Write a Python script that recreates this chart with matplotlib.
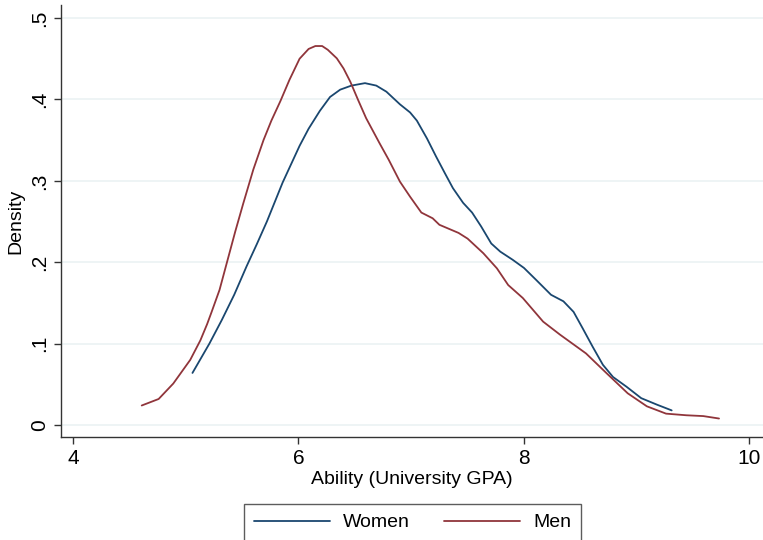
import matplotlib
matplotlib.use("Agg")
import matplotlib.pyplot as plt

plt.rcParams['font.family'] = ['Liberation Sans', 'DejaVu Sans']

# ---- data ----
women_x = [5.06, 5.21, 5.32, 5.43, 5.54, 5.63, 5.72, 5.86, 6.01, 6.09, 6.19, 6.28,
           6.37, 6.47, 6.59, 6.69, 6.78, 6.90, 6.99, 7.05, 7.14, 7.22, 7.30, 7.37, 7.46,
           7.54, 7.62, 7.71, 7.79, 7.90, 8.00, 8.11, 8.24, 8.35, 8.44, 8.52, 8.61, 8.70,
           8.79, 8.91, 9.04, 9.18, 9.31]
women_y = [0.064, 0.100, 0.129, 0.160, 0.195, 0.222, 0.250, 0.298, 0.343, 0.364,
           0.386, 0.403, 0.412, 0.417, 0.420, 0.417, 0.4095, 0.394, 0.384, 0.374, 0.352,
           0.330, 0.309, 0.291, 0.273, 0.261, 0.244, 0.223, 0.213, 0.203, 0.193, 0.178,
           0.160, 0.152, 0.139, 0.119, 0.096, 0.074, 0.059, 0.047, 0.033, 0.025, 0.018]

men_x = [4.61, 4.76, 4.89, 5.04, 5.13, 5.19, 5.23, 5.30, 5.37, 5.44, 5.51, 5.60, 5.69,
         5.76, 5.84, 5.92, 6.01, 6.09, 6.15, 6.21, 6.26, 6.34, 6.40, 6.46, 6.53, 6.60,
         6.72, 6.80, 6.90, 6.99, 7.09, 7.19, 7.25, 7.42, 7.50, 7.64, 7.76, 7.86, 7.99,
         8.17, 8.32, 8.55, 8.73, 8.92, 9.09, 9.26, 9.44, 9.59, 9.73]
men_y = [0.024, 0.032, 0.051, 0.080, 0.104, 0.124, 0.139, 0.166, 0.202, 0.238, 0.272,
         0.314, 0.350, 0.374, 0.398, 0.424, 0.450, 0.462, 0.4656, 0.4656, 0.461, 0.4505,
         0.438, 0.4217, 0.399, 0.377, 0.346, 0.326, 0.299, 0.2805, 0.261, 0.254, 0.246,
         0.236, 0.229, 0.211, 0.1925, 0.172, 0.156, 0.127, 0.111, 0.088, 0.064, 0.039,
         0.023, 0.014, 0.012, 0.011, 0.008]

x_ticks = [4, 6, 8, 10]
x_tick_labels = ["4", "6", "8", "10"]
y_ticks = [0, 0.1, 0.2, 0.3, 0.4, 0.5]
y_tick_labels = ["0", ".1", ".2", ".3", ".4", ".5"]
series_labels = ["Women", "Men"]
x_title = "Ability (University GPA)"
y_title = "Density"

# ---- figure ----
W, H = 763, 540
fig = plt.figure(figsize=(W / 100, H / 100), dpi=100)
fig.patch.set_facecolor("white")
ax = fig.add_axes([61 / W, (H - 437) / H, (W - 61) / W, (437 - 5) / H])

blue = "#1a476f"
red = "#90353b"
axcol = "#333333"

ax.plot(women_x, women_y, color=blue, lw=1.3, label=series_labels[0], zorder=3,
        solid_joinstyle="round", solid_capstyle="round")
ax.plot(men_x, men_y, color=red, lw=1.3, label=series_labels[1], zorder=3,
        solid_joinstyle="round", solid_capstyle="round")

ax.set_xlim(3.894, 10.12)
ax.set_ylim(-0.0147, 0.516)

ax.set_xticks(x_ticks)
ax.set_xticklabels(x_tick_labels)
ax.set_yticks(y_ticks)
ax.set_yticklabels(y_tick_labels, rotation=90, va="center")

for yv in y_ticks:
    ax.axhline(yv, color="#eaf1f3", lw=1.1, zorder=1)

for s in ["top", "right"]:
    ax.spines[s].set_visible(False)
for s in ["left", "bottom"]:
    ax.spines[s].set_color(axcol)
    ax.spines[s].set_linewidth(1.0)

ax.tick_params(axis="both", direction="out", length=5, width=1.0, color=axcol,
               labelsize=15, labelcolor="black", pad=3.5)

ax.set_xlabel(x_title, fontsize=14, labelpad=2)
ax.set_ylabel(y_title, fontsize=14, labelpad=4)

leg = fig.legend(loc="upper center", bbox_to_anchor=(412.5 / W, 1 - 504 / H),
                 ncol=2, fontsize=14, frameon=True, fancybox=False,
                 handlelength=3.9, handletextpad=0.67, columnspacing=1.8,
                 borderpad=0.5, borderaxespad=0)
frame = leg.get_frame()
frame.set_edgecolor(axcol)
frame.set_linewidth(1.0)
for line in leg.get_lines():
    line.set_linewidth(1.3)

fig.savefig("out.png", dpi=100, facecolor="white")
